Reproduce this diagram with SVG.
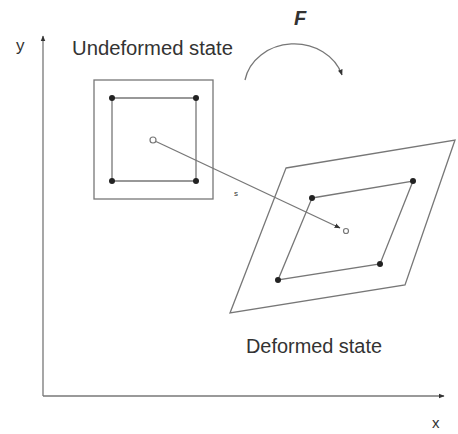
<svg xmlns="http://www.w3.org/2000/svg" width="458" height="434" viewBox="0 0 458 434">
<style>
.ln{fill:none;stroke:#777;stroke-width:1.3}
.dot{fill:#222}
.t{font-family:"Liberation Sans",Arial,sans-serif;fill:#333}
</style>
<defs>
<marker id="ah" viewBox="0 0 10 10" refX="9" refY="5" markerWidth="6" markerHeight="6" orient="auto" markerUnits="userSpaceOnUse">
<path d="M0,1 L10,5 L0,9 Z" fill="#333"/>
</marker>
</defs>
<rect width="458" height="434" fill="#fff"/>
<g id="axes">
<line class="ln" x1="43" y1="396" x2="43" y2="36" marker-end="url(#ah)"/>
<line class="ln" x1="43" y1="396" x2="444" y2="396" marker-end="url(#ah)"/>
<text class="t" x="16" y="51" font-size="17">y</text>
<text class="t" x="432" y="428" font-size="15">x</text>
</g>
<g id="undeformed">
<rect class="ln" x="94" y="80" width="119" height="119"/>
<polygon class="ln" points="112,98 196,98 196,181 112,181"/>
<circle class="dot" cx="112" cy="98" r="3"/>
<circle class="dot" cx="196" cy="98" r="3"/>
<circle class="dot" cx="112" cy="181" r="3"/>
<circle class="dot" cx="196" cy="181" r="3"/>
<circle cx="153" cy="140" r="3" fill="#fff" stroke="#777" stroke-width="1.2"/>
<text class="t" x="72" y="55" font-size="20" textLength="161" lengthAdjust="spacingAndGlyphs">Undeformed state</text>
</g>
<g id="deformed">
<polygon class="ln" points="286,168 455,140 405,285 230,313"/>
<polygon class="ln" points="312,198 413,181 380,264 278,280"/>
<circle class="dot" cx="312" cy="198" r="3"/>
<circle class="dot" cx="413" cy="181" r="3"/>
<circle class="dot" cx="380" cy="264" r="3"/>
<circle class="dot" cx="278" cy="280" r="3"/>
<circle cx="346" cy="231" r="2.5" fill="#fff" stroke="#777" stroke-width="1.2"/>
<text class="t" x="246" y="353" font-size="20" textLength="136" lengthAdjust="spacingAndGlyphs">Deformed state</text>
</g>
<g id="mapping">
<path class="ln" d="M245,80 A50,44 0 0 1 342,75" marker-end="url(#ah)"/>
<text class="t" x="294" y="25" font-size="20" font-style="italic" font-weight="bold">F</text>
</g>
<g id="connectors">
<line class="ln" x1="156" y1="141.5" x2="340" y2="228" marker-end="url(#ah)" stroke-width="1"/>
<text class="t" x="234" y="196" font-size="8">s</text>
</g>
</svg>
